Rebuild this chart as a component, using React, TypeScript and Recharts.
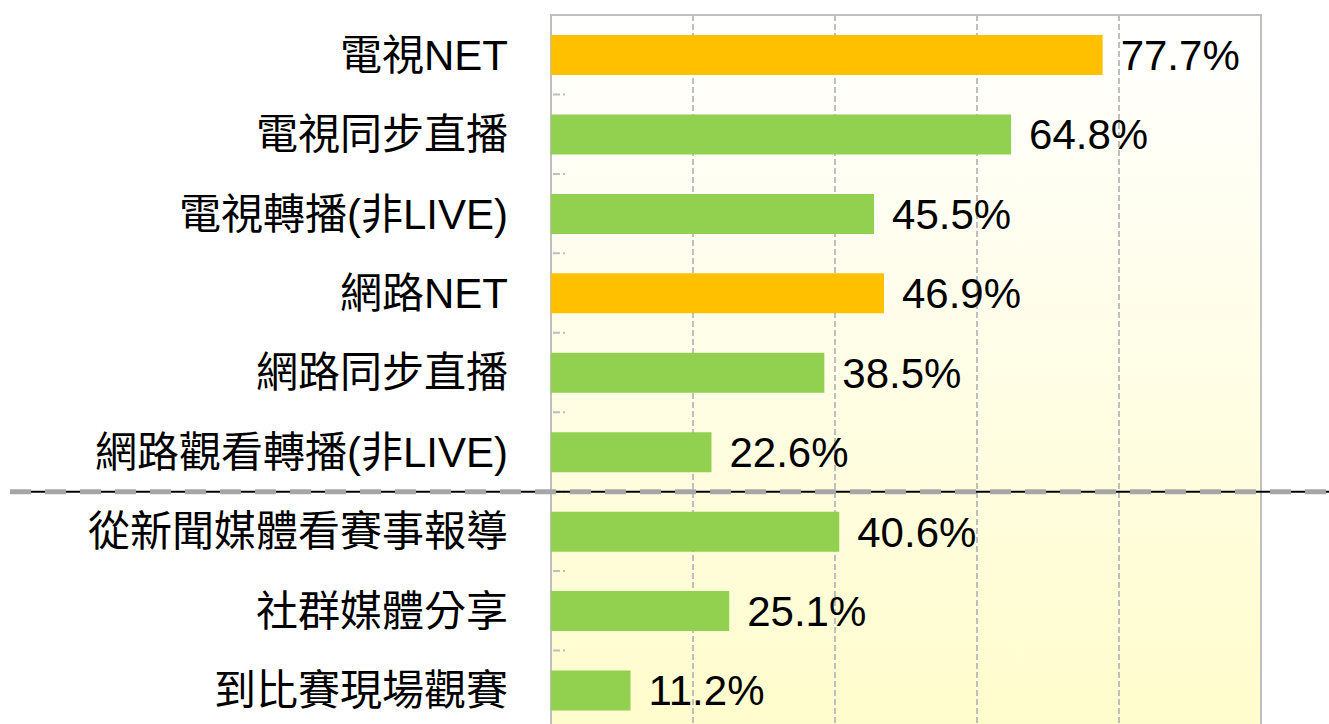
import { BarChart, Bar, XAxis, YAxis, CartesianGrid, Cell, LabelList, ReferenceArea, ReferenceLine } from "recharts";

const categories = [
  "電視NET",
  "電視同步直播",
  "電視轉播(非LIVE)",
  "網路NET",
  "網路同步直播",
  "網路觀看轉播(非LIVE)",
  "從新聞媒體看賽事報導",
  "社群媒體分享",
  "到比賽現場觀賽",
];
const values = [77.7, 64.8, 45.5, 46.9, 38.5, 22.6, 40.6, 25.1, 11.2];
const isNet = [true, false, false, true, false, false, false, false, false];
const xTicks = [20, 40, 60, 80];
// separator sits below this category
const groupEnd = "網路觀看轉播(非LIVE)";

const FONT = '"Liberation Sans", "Noto Sans CJK TC", sans-serif';
const ORANGE = "#FFC000";
const GREEN = "#92D050";
const GRID = "#BFBFBF";

const data = categories.map((name, i) => ({ name, value: values[i], net: isNet[i] }));

function Separator(props: any) {
  const y = props.y1;
  return (
    <g>
      <line x1={10} x2={1329} y1={y} y2={y} stroke="#000" strokeWidth={2} />
      <line x1={10} x2={1329} y1={y} y2={y} stroke="#A6A6A6" strokeWidth={5} strokeDasharray="21 14" />
    </g>
  );
}

function RowTick(props: any) {
  const y = props.y1;
  const x = props.x1;
  return (
    <line x1={x + 2} x2={x + 14} y1={y} y2={y} stroke={GRID} strokeWidth={2} strokeDasharray="7 3 2 20" />
  );
}

export default function App() {
  return (
    <div style={{ position: "fixed", top: 0, left: 0, width: 1329, height: 724, overflow: "hidden", background: "#fff" }}>
      <BarChart
        width={1329}
        height={740}
        data={data}
        layout="vertical"
        margin={{ top: 15, right: 68, bottom: 10, left: 0 }}
        barSize={40}
      >
        <defs>
          <linearGradient id="bg" x1="0" y1="0" x2="0" y2="1">
            <stop offset="0%" stopColor="#FFFFFF" />
            <stop offset="100%" stopColor="#FFFCCC" />
          </linearGradient>
        </defs>
        <CartesianGrid
          horizontal={false}
          fill="url(#bg)"
          fillOpacity={1}
          stroke={GRID}
          strokeWidth={2}
          strokeDasharray="6 3"
        />
        <XAxis type="number" hide domain={[0, 100]} ticks={xTicks} />
        <YAxis
          dataKey="name"
          type="category"
          width={551}
          axisLine={false}
          tickLine={false}
          tickSize={0}
          tickMargin={43}
          interval={0}
          tick={{ fill: "#000", fontSize: 42, fontFamily: FONT }}
        />
        <ReferenceArea x1={0} x2={100} fill="none" stroke={GRID} strokeWidth={2} />
        {categories.slice(0, -1).map((c) => (
          <ReferenceLine key={`t-${c}`} y={c} position="end" shape={RowTick} />
        ))}
        <Bar dataKey="value" isAnimationActive={false}>
          {data.map((d, i) => (
            <Cell key={`c-${i}`} fill={d.net ? ORANGE : GREEN} />
          ))}
          <LabelList
            dataKey="value"
            position="right"
            offset={18}
            formatter={(v: any) => `${Number(v).toFixed(1)}%`}
            style={{ fill: "#000", fontSize: 42, fontFamily: FONT }}
          />
        </Bar>
        <ReferenceLine y={groupEnd} position="end" shape={Separator} />
      </BarChart>
    </div>
  );
}
